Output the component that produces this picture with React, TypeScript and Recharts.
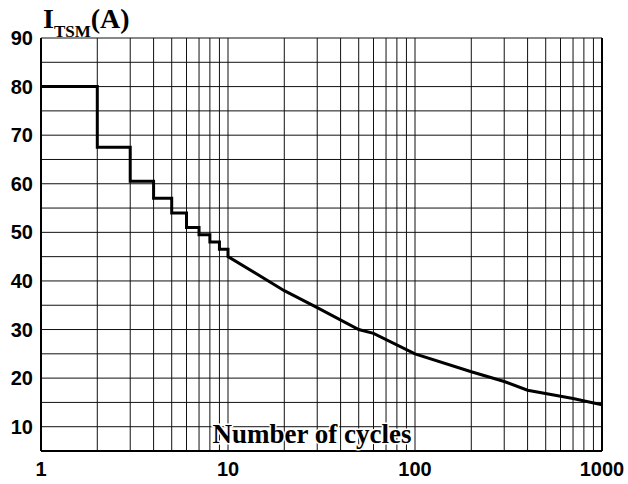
import { LineChart, Line, XAxis, YAxis, CartesianGrid, Label, ReferenceLine } from 'recharts'

// surge current vs number of cycles
const stepCycles = [1, 2, 3, 4, 5, 6, 7, 8, 9, 10]
const stepLevels = [80, 67.5, 60.5, 57, 54, 51, 49.5, 48, 46.5]
const curveCycles = [10, 20, 30, 50, 60, 100, 200, 300, 400, 700, 1000]
const curveLevels = [45, 38, 34.5, 30, 29.2, 25, 21.3, 19.3, 17.5, 15.8, 14.5]

const xTicks = [1, 10, 100, 1000]
const yTicks = [10, 20, 30, 40, 50, 60, 70, 80, 90]
const xGrid = [1, 2, 3, 4, 5, 6, 7, 8, 9, 10, 20, 30, 40, 50, 60, 70, 80, 90, 100, 200, 300, 400, 500, 600, 700, 800, 900, 1000]
const yGrid = [5, 10, 15, 20, 25, 30, 35, 40, 45, 50, 55, 60, 65, 70, 75, 80, 85, 90]

const data: { n: number; a: number }[] = []
stepLevels.forEach((v, i) => {
  data.push({ n: stepCycles[i], a: v })
  data.push({ n: stepCycles[i + 1], a: v })
})
curveCycles.forEach((n, i) => data.push({ n, a: curveLevels[i] }))

const tickStyle = {
  fontFamily: 'Arial, "Liberation Sans", sans-serif',
  fontWeight: 'bold',
  fontSize: 20,
  fill: '#000',
}
const serif = '"Times New Roman", "Liberation Serif", serif'

export default function App() {
  return (
    <div style={{ position: 'absolute', left: 0, top: 0, background: '#fff' }}>
      <LineChart width={628} height={484} data={data} margin={{ top: 38, right: 26, left: 0, bottom: 0 }}>
        <CartesianGrid
          stroke="#111"
          strokeWidth={1}
          verticalValues={xGrid}
          horizontalValues={yGrid}
        />
        <ReferenceLine x={1000} stroke="#000" strokeWidth={2} />
        <XAxis
          dataKey="n"
          type="number"
          scale="log"
          domain={[1, 1000]}
          ticks={xTicks}
          allowDataOverflow
          height={33}
          tickLine={false}
          tickSize={0}
          tickMargin={11}
          axisLine={{ stroke: '#000', strokeWidth: 2 }}
          tick={tickStyle}
          interval={0}
        >
          <Label
            content={() => (
              <text
                x={312}
                y={443}
                textAnchor="middle"
                fontFamily={serif}
                fontWeight="bold"
                fontSize={27}
                fill="#000"
                stroke="#fff"
                strokeWidth={3}
                paintOrder="stroke"
              >
                Number of cycles
              </text>
            )}
          />
        </XAxis>
        <YAxis
          type="number"
          domain={[5, 90]}
          ticks={yTicks}
          allowDataOverflow
          width={41}
          tickLine={false}
          tickSize={0}
          tickMargin={8}
          axisLine={{ stroke: '#000', strokeWidth: 2 }}
          tick={tickStyle}
          interval={0}
        >
          <Label
            content={() => (
              <text x={43} y={28} fontFamily={serif} fontWeight="bold" fontSize={28} fill="#000">
                I
                <tspan fontSize={17} dy={9}>TSM</tspan>
                <tspan fontSize={28} dy={-9}>(A)</tspan>
              </text>
            )}
          />
        </YAxis>
        <Line
          dataKey="a"
          type="linear"
          stroke="#000"
          strokeWidth={3}
          dot={false}
          activeDot={false}
          isAnimationActive={false}
        />
      </LineChart>
    </div>
  )
}
